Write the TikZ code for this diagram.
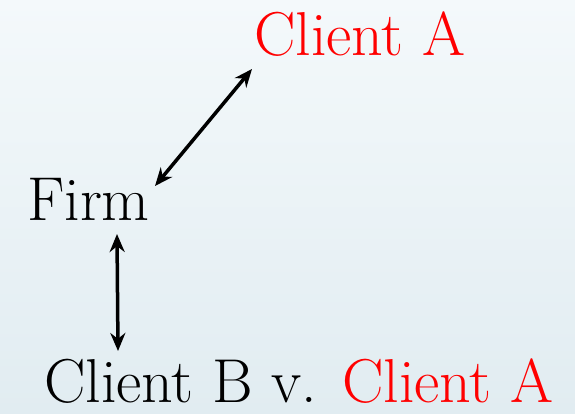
\documentclass[tikz,border=0pt]{standalone}
\usetikzlibrary{arrows.meta}
\definecolor{bgtop}{HTML}{F4F9FB}
\definecolor{bgbot}{HTML}{E1ECF1}
\definecolor{clientred}{HTML}{FF0000}
\tikzset{
  label/.style={anchor=base west, inner sep=0pt, font=\fontsize{62}{70}\selectfont},
  link/.style={line width=3.5pt, {Stealth[length=18pt,width=15pt]}-{Stealth[length=18pt,width=15pt]}}
}
\begin{document}
\begin{tikzpicture}[x=1pt,y=-1pt]
  \shade[top color=bgtop, bottom color=bgbot] (0,0) rectangle (575,413);
  \useasboundingbox (0,0) rectangle (575,413);
  \node[label, text=clientred] (ca) at (254,55) {Client A};
  \node[label] (firm) at (27,220) {Firm};
  \node[label] (bottom) at (44,402) {Client B v. \textcolor{clientred}{Client A}};
  \coordinate (d1) at (155,186);
  \coordinate (d2) at (252,69);
  \coordinate (v1) at (117,234);
  \coordinate (v2) at (118,351);
  \draw[link] (d1) -- (d2);
  \draw[link] (v1) -- (v2);
\end{tikzpicture}
\end{document}
